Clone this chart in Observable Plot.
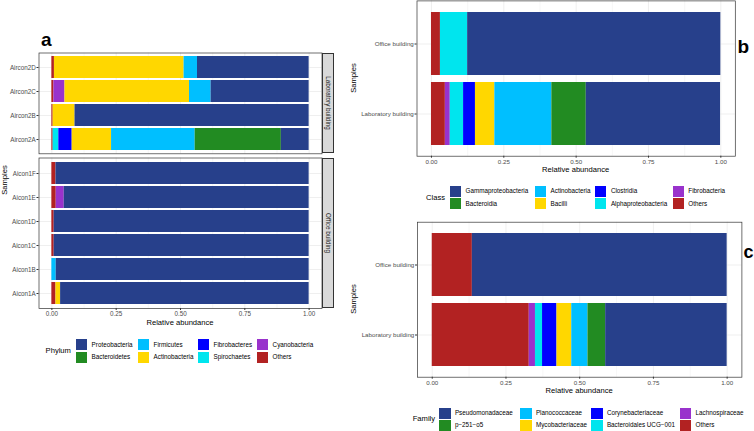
<!DOCTYPE html>
<html><head><meta charset="utf-8">
<script src="https://cdn.jsdelivr.net/npm/d3@7"></script>
<script src="https://cdn.jsdelivr.net/npm/@observablehq/plot@0.6"></script>
<style>
body{margin:0;background:#fff;}
#root{position:relative;width:754px;height:431px;overflow:hidden;font-family:"Liberation Sans",Arial,sans-serif;background:#fff;}
#root svg{position:absolute;left:0;top:0;}
.t{position:absolute;white-space:nowrap;line-height:1;}
.box{position:absolute;box-sizing:border-box;}
</style></head><body><div id="root"></div>
<script>
// ---------- data ----------
const palette = ["#27408B","#228B22","#00BFFF","#FFD700","#0000FF","#00E5EE","#9932CC","#B22222"];

const phylumNames = ["Proteobacteria","Bacteroidetes","Firmicutes","Actinobacteria","Fibrobacteres","Spirochaetes","Cyanobacteria","Others"];
const labSamples = ["Aircon2D","Aircon2C","Aircon2B","Aircon2A"];
const officeSamples = ["Aicon1F","Aicon1E","Aicon1D","Aicon1C","Aicon1B","Aicon1A"];
// values in phylumNames order
const aircon2D = [0.434, 0, 0.052, 0.504, 0, 0, 0, 0.010];
const aircon2C = [0.381, 0, 0.084, 0.484, 0, 0, 0.043, 0.008];
const aircon2B = [0.910, 0, 0, 0.085, 0, 0, 0, 0.005];
const aircon2A = [0.108, 0.335, 0.325, 0.153, 0.052, 0.022, 0, 0.005];
const aicon1F = [0.984, 0, 0, 0, 0, 0, 0, 0.016];
const aicon1E = [0.952, 0, 0, 0, 0, 0, 0.031, 0.017];
const aicon1D = [0.991, 0, 0, 0, 0, 0, 0, 0.009];
const aicon1C = [0.991, 0, 0, 0, 0, 0, 0, 0.009];
const aicon1B = [0.983, 0, 0.017, 0, 0, 0, 0, 0];
const aicon1A = [0.966, 0, 0, 0.018, 0, 0, 0, 0.016];

const classNames = ["Gammaproteobacteria","Bacteroidia","Actinobacteria","Bacilli","Clostridia","Alphaproteobacteria","Fibrobacteria","Others"];
const buildings = ["Office building","Laboratory building"];
const classOffice = [0.875, 0, 0, 0, 0, 0.094, 0, 0.031];
const classLab = [0.464, 0.119, 0.197, 0.067, 0.041, 0.046, 0.017, 0.048];

const familyNames = ["Pseudomonadaceae","p\u2212251\u2212o5","Planococcaceae","Mycobacteriaceae","Corynebacteriaceae","Bacteroidales UCG\u2212001","Lachnospiraceae","Others"];
const familyOffice = [0.864, 0, 0, 0, 0, 0, 0, 0.136];
const familyLab = [0.412, 0.060, 0.055, 0.050, 0.049, 0.024, 0.021, 0.329];

const xTicks = [0, 0.25, 0.5, 0.75, 1];
const xMinor = [0.125, 0.375, 0.625, 0.875];

// ---------- helpers ----------
const root = document.getElementById("root");
const FONT = "'Liberation Sans', Arial, sans-serif";

function rowsOf(samples, arrays, names) {
  const out = [];
  samples.forEach((s, j) => {
    for (let i = names.length - 1; i >= 0; i--) {
      if (arrays[j][i] > 0) out.push({sample: s, taxon: names[i], value: arrays[j][i]});
    }
  });
  return out;
}

function panel({rows, domainY, names, mL, mR, mT, mB, xAxis, fs}) {
  const marks = [
    Plot.gridX({ticks: xMinor, stroke: "#EBEBEB", strokeOpacity: 1, strokeWidth: 0.4}),
    Plot.gridX({ticks: xTicks, stroke: "#EBEBEB", strokeOpacity: 1, strokeWidth: 0.8}),
    Plot.gridY({stroke: "#EBEBEB", strokeOpacity: 1, strokeWidth: 0.8}),
    Plot.barX(rows, {y: "sample", x: "value", fill: "taxon"}),
    Plot.frame({stroke: "#333333", strokeWidth: 0.7}),
    Plot.axisY({tickSize: 2, tickPadding: 1.2, fontSize: fs, fill: "#4D4D4D", stroke: "#333333", label: null})
  ];
  if (xAxis) marks.push(Plot.axisX({ticks: xTicks, tickFormat: ".2f", tickSize: 2, tickPadding: 1.2, fontSize: fs, fill: "#4D4D4D", stroke: "#333333", label: null}));
  const svg = Plot.plot({
    width: 754, height: 431,
    marginLeft: mL, marginRight: mR, marginTop: mT, marginBottom: mB,
    x: {domain: [-0.05, 1.05], axis: null},
    y: {domain: domainY, paddingInner: 0.1, paddingOuter: 0.15, axis: null},
    color: {domain: names, range: palette},
    style: {background: "transparent", fontFamily: FONT},
    marks
  });
  root.appendChild(svg);
}

function T(text, x, y, {size = 6.3, weight = "normal", anchor = "start", rotate = 0, color = "#000"} = {}) {
  const d = document.createElement("div");
  d.className = "t";
  d.textContent = text;
  d.style.left = x + "px";
  d.style.top = y + "px";
  d.style.fontSize = size + "px";
  d.style.fontWeight = weight;
  d.style.color = color;
  const tx = anchor === "start" ? "0" : anchor === "middle" ? "-50%" : "-100%";
  d.style.transform = rotate ? `translate(-50%,-50%) rotate(${rotate}deg)` : `translate(${tx},-50%)`;
  root.appendChild(d);
}

function box(x, y, w, h, fill, stroke) {
  const d = document.createElement("div");
  d.className = "box";
  Object.assign(d.style, {left: x + "px", top: y + "px", width: w + "px", height: h + "px", background: fill});
  if (stroke) d.style.border = "0.7px solid " + stroke;
  root.appendChild(d);
}

function legend(title, names, titleX, titleY, keyXs, rowTops, key) {
  T(title, titleX, titleY, {size: 7.6});
  names.forEach((n, i) => {
    const col = Math.floor(i / 2), row = i % 2;
    box(keyXs[col], rowTops[row], key, key, palette[i]);
    T(n, keyXs[col] + 15.6, rowTops[row] + key / 2, {size: 6.3});
  });
}

// ---------- panel a ----------
panel({rows: rowsOf(labSamples, [aircon2D, aircon2C, aircon2B, aircon2A], phylumNames),
  domainY: labSamples, names: phylumNames, mL: 38.5, mR: 754 - 321.5, mT: 52.5, mB: 431 - 153.3, xAxis: false, fs: 6.3});
panel({rows: rowsOf(officeSamples, [aicon1F, aicon1E, aicon1D, aicon1C, aicon1B, aicon1A], phylumNames),
  domainY: officeSamples, names: phylumNames, mL: 38.5, mR: 754 - 321.5, mT: 157.5, mB: 431 - 308, xAxis: true, fs: 6.3});
box(321.5, 52.5, 12, 100.8, "#D9D9D9", "#333333");
box(321.5, 157.5, 12, 150.5, "#D9D9D9", "#333333");
T("Laboratory building", 327.6, 102.9, {size: 6.3, rotate: 90, color: "#1A1A1A"});
T("Office building", 327.6, 232.7, {size: 6.3, rotate: 90, color: "#1A1A1A"});
T("a", 41, 38.5, {size: 19, weight: "bold"});
T("Samples", 4.5, 180, {size: 7.6, rotate: -90});
T("Relative abundance", 180, 323.3, {size: 7.6, anchor: "middle"});
legend("Phylum", phylumNames, 45.6, 351.2, [76, 138, 198, 257], [339.4, 351.6], 11);

// ---------- panel b ----------
panel({rows: rowsOf(buildings, [classOffice, classLab], classNames),
  domainY: buildings, names: classNames, mL: 416.5, mR: 754 - 734.8, mT: 0.4, mB: 431 - 155.7, xAxis: true, fs: 6.2});
T("b", 737.5, 46, {size: 19, weight: "bold"});
T("Samples", 353.7, 78, {size: 7.6, rotate: -90});
T("Relative abundance", 575.7, 169.7, {size: 7.6, anchor: "middle"});
legend("Class", classNames, 426, 197.6, [450, 535, 595.3, 672.7], [185.7, 198], 11);

// ---------- panel c ----------
panel({rows: rowsOf(buildings, [familyOffice, familyLab], familyNames),
  domainY: buildings, names: familyNames, mL: 417, mR: 754 - 741.4, mT: 221.7, mB: 431 - 376.7, xAxis: true, fs: 6.2});
T("c", 743.5, 252, {size: 18, weight: "bold"});
T("Samples", 353.7, 299, {size: 7.6, rotate: -90});
T("Relative abundance", 579.2, 391, {size: 7.6, anchor: "middle"});
legend("Family", familyNames, 412.7, 419.3, [439.3, 520.3, 591.3, 680], [407.6, 419.6], 11.3);
</script></body></html>
